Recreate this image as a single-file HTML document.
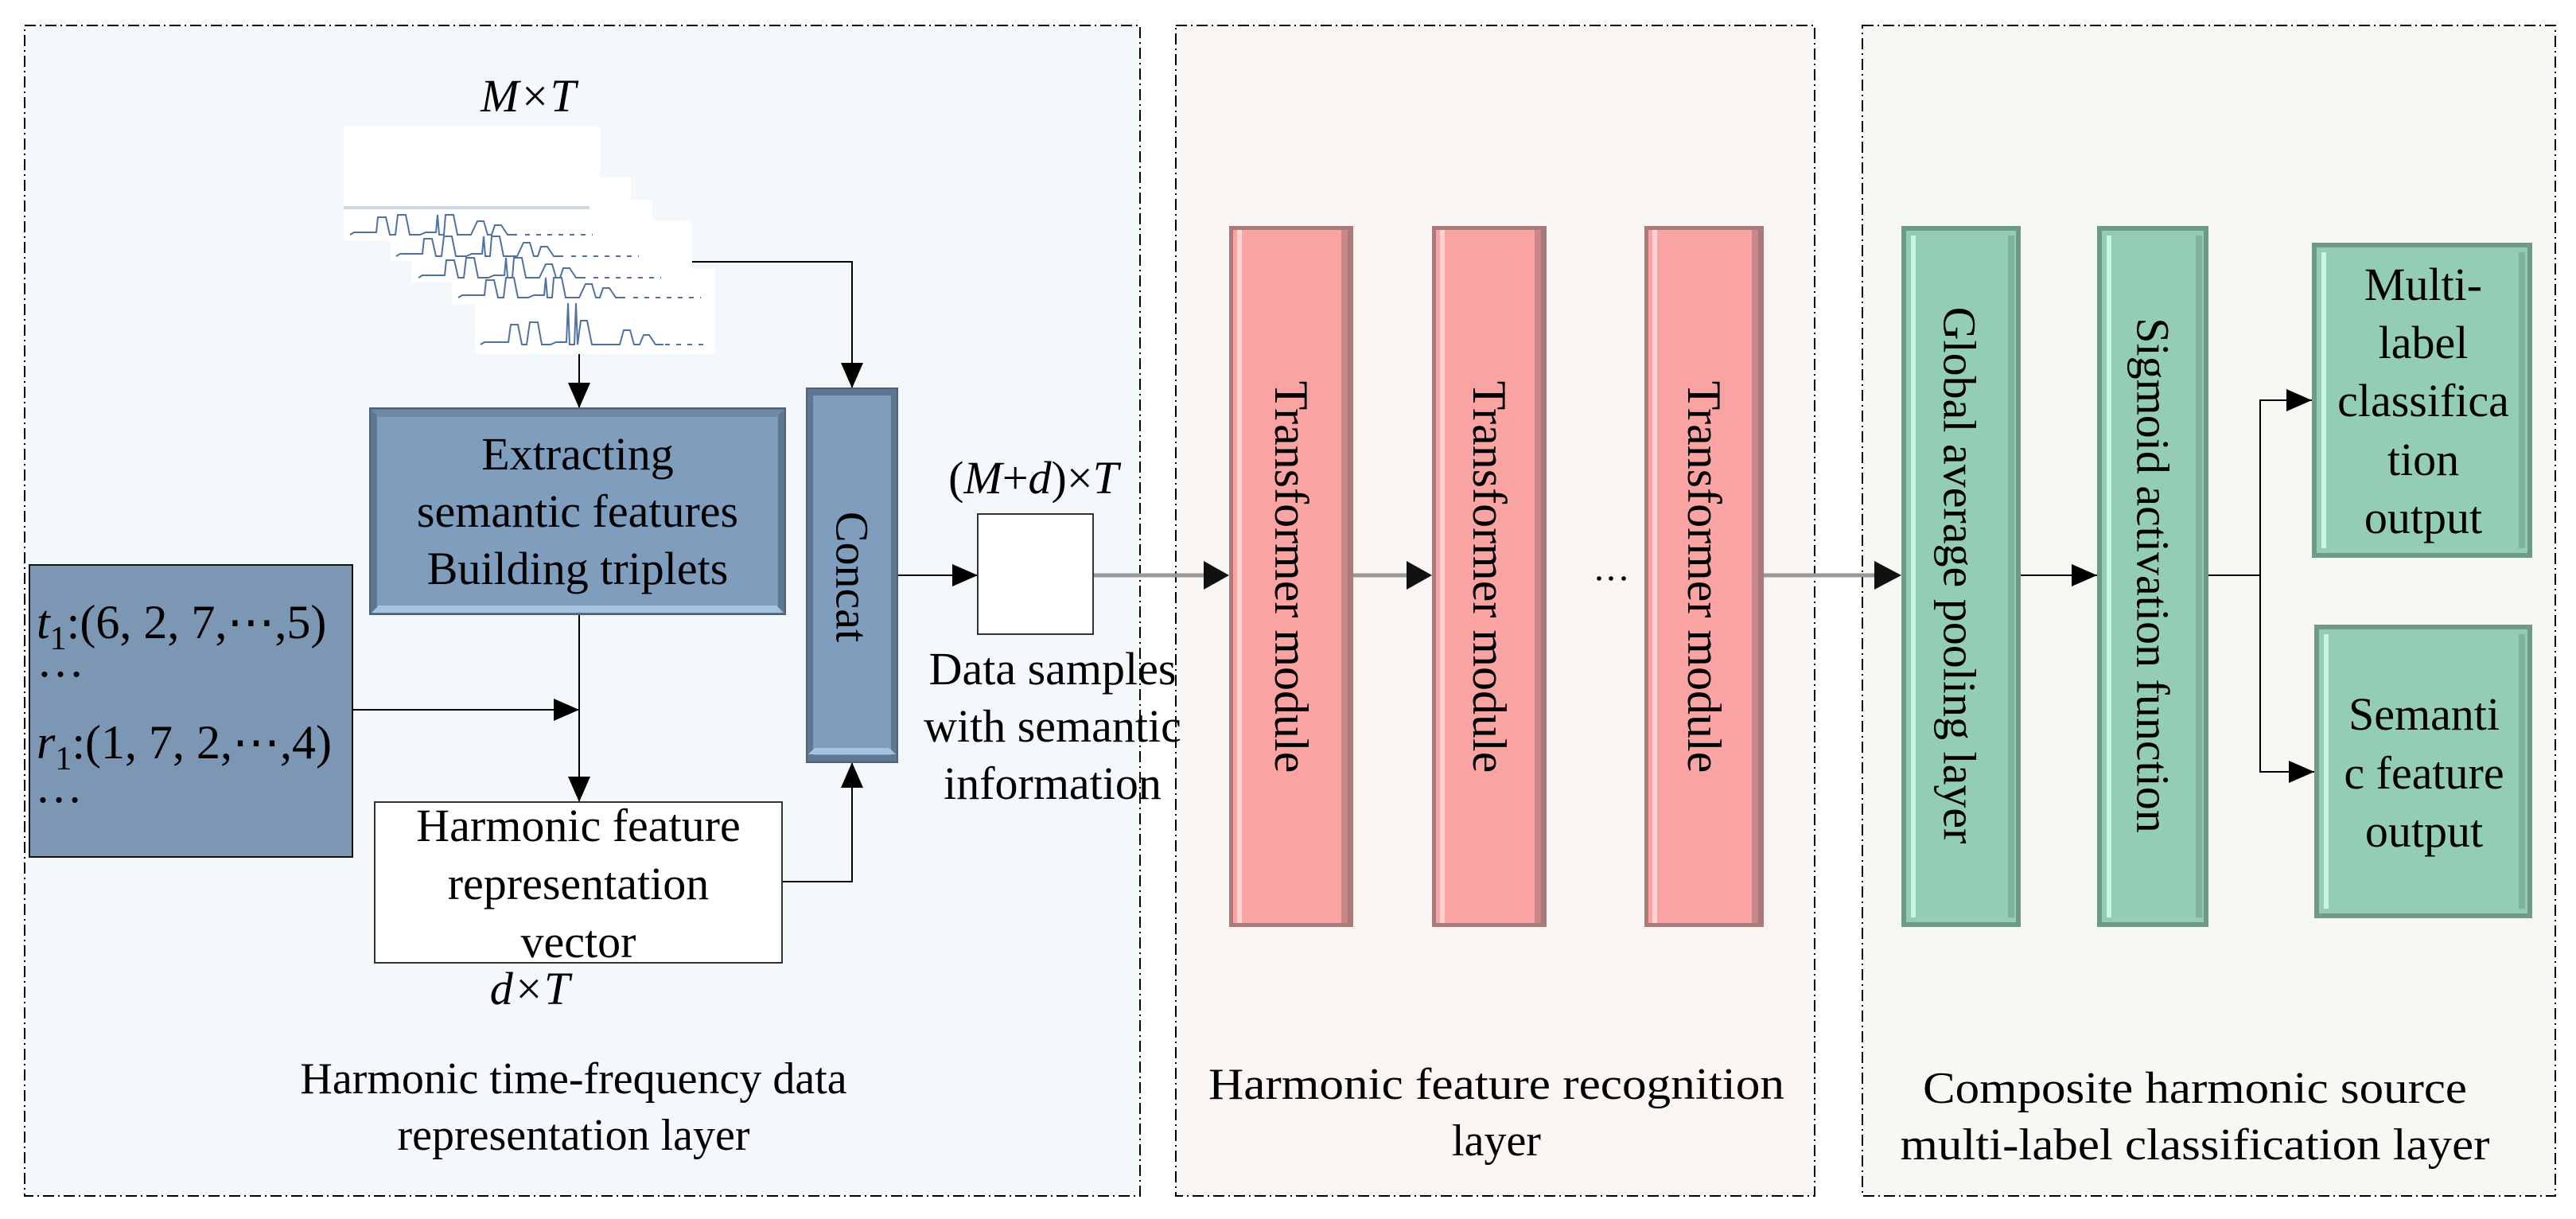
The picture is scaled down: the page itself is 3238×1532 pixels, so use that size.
<!DOCTYPE html>
<html><head><meta charset="utf-8"><style>
html,body{margin:0;padding:0;background:#fff;}
svg{display:block;}
svg, svg text{font-family:"Liberation Serif","Times New Roman","DejaVu Serif",serif !important;}
text{fill:#000;}
</style></head><body>
<svg width="3238" height="1532" viewBox="0 0 3238 1532" xmlns="http://www.w3.org/2000/svg" font-family="'Liberation Serif', 'Times New Roman', serif">
<defs>
<marker id="ah" markerWidth="32" markerHeight="28" refX="32" refY="14" orient="auto" markerUnits="userSpaceOnUse" viewBox="0 0 32 28"><path d="M0,0 L32,14 L0,28 z" fill="#000"/></marker>
</defs>
<!-- panels -->
<rect x="31" y="32" width="1402" height="1471" fill="#f3f8fb" stroke="#000" stroke-width="2" stroke-dasharray="14,5,2,5"/>
<rect x="1478" y="32" width="803" height="1471" fill="#f9f5f3" stroke="#000" stroke-width="2" stroke-dasharray="14,5,2,5"/>
<rect x="2341" y="32" width="871" height="1471" fill="#f6f8f3" stroke="#000" stroke-width="2" stroke-dasharray="14,5,2,5"/>

<!-- waveform stack -->
<g fill="#fff">
<rect x="432" y="158" width="322" height="145"/>
<rect x="432" y="223" width="361" height="80"/>
<rect x="432" y="251" width="388" height="52"/>
<rect x="491" y="277" width="379" height="51"/>
<rect x="518" y="303" width="352" height="52"/>
<rect x="568" y="337" width="331" height="45"/>
<rect x="597" y="382" width="302" height="63"/>
</g>
<line x1="432" y1="261" x2="741" y2="261" stroke="#cdd6e2" stroke-width="4"/>
<g fill="none" stroke="#4f72a0" stroke-width="2">
<polyline transform="translate(440,295)" points="0,0 5,-3 25,-3 33,-3 35,-22 45,-22 50,0 57,0 60,-25 70,-25 75,0 88,0 95,-3 108,-3 110,-25 112,0 118,0 120,-25 130,-25 135,0 152,0 160,-17 168,-17 173,0 178,0 182,-12 190,-12 198,0 210,0"/>
<polyline transform="translate(498,322)" points="0,0 5,-3 25,-3 33,-3 35,-22 45,-22 50,0 57,0 60,-25 70,-25 75,0 88,0 95,-3 108,-3 110,-25 112,0 118,0 120,-25 130,-25 135,0 152,0 160,-17 168,-17 173,0 178,0 182,-12 190,-12 198,0 210,0"/>
<polyline transform="translate(526,349)" points="0,0 5,-3 25,-3 33,-3 35,-22 45,-22 50,0 57,0 60,-25 70,-25 75,0 88,0 95,-3 108,-3 110,-25 112,0 118,0 120,-25 130,-25 135,0 152,0 160,-17 168,-17 173,0 178,0 182,-12 190,-12 198,0 210,0"/>
<polyline transform="translate(576,374)" points="0,0 5,-3 25,-3 33,-3 35,-22 45,-22 50,0 57,0 60,-25 70,-25 75,0 88,0 95,-3 108,-3 110,-25 112,0 118,0 120,-25 130,-25 135,0 152,0 160,-17 168,-17 173,0 178,0 182,-12 190,-12 198,0 210,0"/>
<polyline transform="translate(604,433)" points="0,0 5,-3 30,-3 35,-3 38,-25 47,-25 52,0 58,0 62,-28 72,-28 77,0 88,0 95,-3 108,-3 110,-52 112,0 118,0 120,-52 122,0 126,-30 134,-30 140,0 175,0 180,-18 188,-18 193,0 200,0 205,-12 212,-12 220,0 230,0"/>
</g>
<g stroke="#4f72a0" stroke-width="2" stroke-dasharray="6,8">
<line x1="660" y1="295" x2="745" y2="295"/><line x1="718" y1="322" x2="803" y2="322"/><line x1="746" y1="349" x2="831" y2="349"/><line x1="796" y1="374" x2="881" y2="374"/><line x1="836" y1="433" x2="891" y2="433"/>
</g>
<text x="664" y="140" font-size="58" font-style="italic" text-anchor="middle">M×T</text>

<!-- connectors -->
<g stroke="#000" stroke-width="2" fill="none">
<line x1="728" y1="445" x2="728" y2="513" marker-end="url(#ah)"/>
<polyline points="870,329 1071,329 1071,488" marker-end="url(#ah)"/>
<line x1="728" y1="772" x2="728" y2="1008" marker-end="url(#ah)"/>
<line x1="443" y1="892" x2="728" y2="892" marker-end="url(#ah)"/>
<polyline points="983,1108 1071,1108 1071,958" marker-end="url(#ah)"/>
<line x1="1128" y1="723" x2="1229" y2="723" marker-end="url(#ah)"/>
<line x1="2540" y1="723" x2="2636" y2="723" marker-end="url(#ah)"/>
<polyline points="2776,723 2841,723 2841,503 2906,503" marker-end="url(#ah)"/>
<polyline points="2841,723 2841,970 2909,970" marker-end="url(#ah)"/>
</g>
<g stroke="#999" stroke-width="5" fill="none">
<line x1="1374" y1="723" x2="1515" y2="723"/>
<line x1="1701" y1="723" x2="1770" y2="723"/>
<line x1="2217" y1="723" x2="2358" y2="723"/>
</g>
<g fill="#111">
<path d="M1513,705 L1545,723 L1513,741 z"/>
<path d="M1768,705 L1800,723 L1768,741 z"/>
<path d="M2356,705 L2390,723 L2356,741 z"/>
</g>

<!-- left data box -->
<rect x="37" y="710" width="406" height="367" fill="#7b97b4" stroke="#111" stroke-width="2"/>
<text x="46" y="802" font-size="60"><tspan font-style="italic">t</tspan><tspan font-size="42" dy="14">1</tspan><tspan dy="-14">:(6, 2, 7,⋯,5)</tspan></text>
<text x="46" y="850" font-size="60">…</text>
<text x="46" y="953" font-size="60"><tspan font-style="italic">r</tspan><tspan font-size="42" dy="14">1</tspan><tspan dy="-14">:(1, 7, 2,⋯,4)</tspan></text>
<text x="44" y="1008" font-size="60">…</text>

<!-- blue bevel boxes -->
<g>
<rect x="465" y="513" width="522" height="259" fill="#5f7791" stroke="#4d6177" stroke-width="2"/>
<rect x="474" y="522" width="504" height="241" fill="#7f9dbd"/>
<path d="M467,515 L985,515 L976,524 L476,524 z" fill="#6f88a3"/>
<path d="M467,770 L985,770 L976,761 L476,761 z" fill="#a6c2e0"/>
<text x="726" y="590" font-size="58" text-anchor="middle">Extracting</text>
<text x="726" y="662" font-size="58" text-anchor="middle">semantic features</text>
<text x="726" y="734" font-size="58" text-anchor="middle">Building triplets</text>
</g>
<g>
<rect x="1014" y="488" width="114" height="470" fill="#5f7791" stroke="#4d6177" stroke-width="2"/>
<rect x="1022" y="497" width="98" height="452" fill="#7f9dbd"/>
<path d="M1016,948 L1126,948 L1118,940 L1024,940 z" fill="#a6c2e0"/>
<text transform="translate(1071,725) rotate(90)" font-size="58" text-anchor="middle" dominant-baseline="central">Concat</text>
</g>

<!-- harmonic vector box -->
<rect x="471" y="1008" width="512" height="202" fill="#fff" stroke="#333" stroke-width="2"/>
<text x="727" y="1057" font-size="58" text-anchor="middle">Harmonic feature</text>
<text x="727" y="1130" font-size="58" text-anchor="middle">representation</text>
<text x="727" y="1203" font-size="58" text-anchor="middle">vector</text>
<text x="666" y="1262" font-size="58" font-style="italic" text-anchor="middle">d×T</text>

<!-- data sample box -->
<rect x="1229" y="646" width="145" height="151" fill="#fff" stroke="#333" stroke-width="2"/>
<text x="1299" y="620" font-size="58" text-anchor="middle">(<tspan font-style="italic">M</tspan>+<tspan font-style="italic">d</tspan>)×<tspan font-style="italic">T</tspan></text>
<text x="1323" y="860" font-size="58" text-anchor="middle">Data samples</text>
<text x="1323" y="932" font-size="58" text-anchor="middle">with semantic</text>
<text x="1323" y="1004" font-size="58" text-anchor="middle">information</text>

<!-- transformers -->
<g>
<rect x="1545" y="284" width="156" height="881" fill="#a87a7a"/>
<rect x="1550" y="289" width="144" height="871" fill="#f9a3a3"/>
<rect x="1555" y="289" width="6" height="871" fill="#fcd2d2"/>
<rect x="1686" y="289" width="8" height="871" fill="#c98787"/>
<text transform="translate(1623,725) rotate(90)" font-size="60" text-anchor="middle" dominant-baseline="central">Transformer module</text>
</g>
<g>
<rect x="1800" y="284" width="144" height="881" fill="#a87a7a"/>
<rect x="1805" y="289" width="132" height="871" fill="#f9a3a3"/>
<rect x="1810" y="289" width="6" height="871" fill="#fcd2d2"/>
<rect x="1929" y="289" width="8" height="871" fill="#c98787"/>
<text transform="translate(1872,725) rotate(90)" font-size="60" text-anchor="middle" dominant-baseline="central">Transformer module</text>
</g>
<g>
<rect x="2067" y="284" width="150" height="881" fill="#a87a7a"/>
<rect x="2072" y="289" width="138" height="871" fill="#f9a3a3"/>
<rect x="2077" y="289" width="6" height="871" fill="#fcd2d2"/>
<rect x="2202" y="289" width="8" height="871" fill="#c98787"/>
<text transform="translate(2142,725) rotate(90)" font-size="60" text-anchor="middle" dominant-baseline="central">Transformer module</text>
</g>
<g fill="#000"><circle cx="2010" cy="727" r="2.8"/><circle cx="2025" cy="727" r="2.8"/><circle cx="2041" cy="727" r="2.8"/></g>

<!-- green boxes -->
<g>
<rect x="2390" y="284" width="150" height="881" fill="#6f9a87"/>
<rect x="2396" y="290" width="138" height="869" fill="#93cdb4"/>
<rect x="2402" y="296" width="6" height="857" fill="#c9f5e6"/>
<rect x="2524" y="296" width="8" height="857" fill="#7fb39c"/>
<text transform="translate(2463,723) rotate(90)" font-size="58" text-anchor="middle" dominant-baseline="central">Global average pooling layer</text>
</g>
<g>
<rect x="2636" y="284" width="140" height="881" fill="#6f9a87"/>
<rect x="2642" y="290" width="128" height="869" fill="#93cdb4"/>
<rect x="2648" y="296" width="6" height="857" fill="#c9f5e6"/>
<rect x="2760" y="296" width="8" height="857" fill="#7fb39c"/>
<text transform="translate(2706,723) rotate(90)" font-size="58" text-anchor="middle" dominant-baseline="central">Sigmoid activation function</text>
</g>
<g>
<rect x="2906" y="305" width="277" height="396" fill="#6f9a87"/>
<rect x="2912" y="311" width="265" height="384" fill="#93cdb4"/>
<rect x="2918" y="317" width="6" height="372" fill="#c9f5e6"/>
<rect x="3166" y="317" width="8" height="372" fill="#7fb39c"/>
<text x="3046" y="377" font-size="58" text-anchor="middle">Multi-</text>
<text x="3046" y="450" font-size="58" text-anchor="middle">label</text>
<text x="3046" y="523" font-size="58" text-anchor="middle">classifica</text>
<text x="3046" y="597" font-size="58" text-anchor="middle">tion</text>
<text x="3046" y="670" font-size="58" text-anchor="middle">output</text>
</g>
<g>
<rect x="2909" y="785" width="274" height="369" fill="#6f9a87"/>
<rect x="2915" y="791" width="262" height="357" fill="#93cdb4"/>
<rect x="2921" y="797" width="6" height="345" fill="#c9f5e6"/>
<rect x="3166" y="797" width="8" height="345" fill="#7fb39c"/>
<text x="3047" y="917" font-size="58" text-anchor="middle">Semanti</text>
<text x="3047" y="991" font-size="58" text-anchor="middle">c feature</text>
<text x="3047" y="1064" font-size="58" text-anchor="middle">output</text>
</g>

<!-- captions -->
<text x="721" y="1374" font-size="56" text-anchor="middle">Harmonic time-frequency data</text>
<text x="721" y="1445" font-size="56" text-anchor="middle">representation layer</text>
<text x="1881" y="1381" font-size="56" text-anchor="middle" textLength="724" lengthAdjust="spacingAndGlyphs">Harmonic feature recognition</text>
<text x="1881" y="1452" font-size="56" text-anchor="middle">layer</text>
<text x="2759" y="1386" font-size="56" text-anchor="middle" textLength="684" lengthAdjust="spacingAndGlyphs">Composite harmonic source</text>
<text x="2759" y="1457" font-size="56" text-anchor="middle" textLength="741" lengthAdjust="spacingAndGlyphs">multi-label classification layer</text>
</svg>
</body></html>
